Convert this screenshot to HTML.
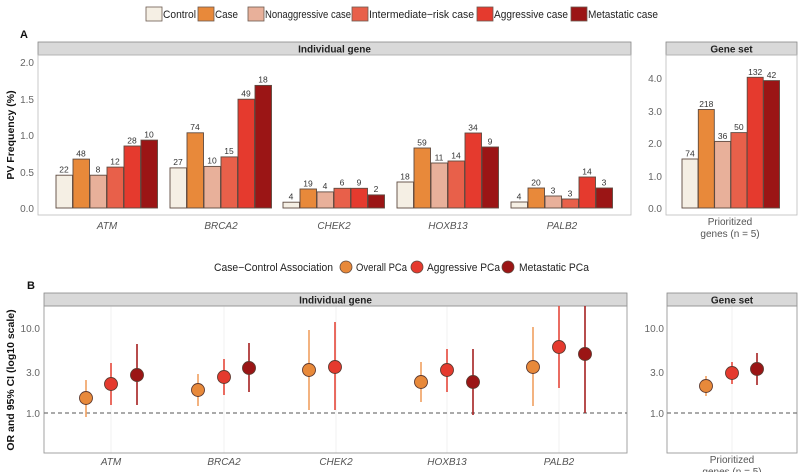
<!DOCTYPE html>
<html><head><meta charset="utf-8"><style>
html,body{margin:0;padding:0;background:#fff}
svg{display:block;font-family:"Liberation Sans",Arial,sans-serif}
</style></head><body>
<svg width="800" height="472" viewBox="0 0 800 472" xmlns="http://www.w3.org/2000/svg">
<!-- Legend A -->
<g font-size="11" fill="#222" stroke="#6b5a50" stroke-width="0.8">
<rect x="146" y="7" width="16" height="14" fill="#f5efe4"/>
<rect x="198" y="7" width="16" height="14" fill="#e8893a"/>
<rect x="248" y="7" width="16" height="14" fill="#e8b09a"/>
<rect x="352" y="7" width="16" height="14" fill="#e8604a"/>
<rect x="477" y="7" width="16" height="14" fill="#e53a2e"/>
<rect x="571" y="7" width="16" height="14" fill="#9b1515"/>
</g>
<g font-size="11" fill="#222" lengthAdjust="spacingAndGlyphs">
<text x="163" y="18" textLength="33" lengthAdjust="spacingAndGlyphs">Control</text>
<text x="215" y="18" textLength="23" lengthAdjust="spacingAndGlyphs">Case</text>
<text x="265" y="18" textLength="86" lengthAdjust="spacingAndGlyphs">Nonaggressive case</text>
<text x="369" y="18" textLength="105" lengthAdjust="spacingAndGlyphs">Intermediate−risk case</text>
<text x="494" y="18" textLength="74" lengthAdjust="spacingAndGlyphs">Aggressive case</text>
<text x="588" y="18" textLength="70" lengthAdjust="spacingAndGlyphs">Metastatic case</text>
</g>
<text x="20" y="38" font-size="11" font-weight="bold" fill="#111">A</text>
<!-- Panel A individual -->
<rect x="38" y="42" width="593" height="13" fill="#d9d9d9" stroke="#888" stroke-width="0.8"/>
<text x="334.5" y="52.5" font-size="10" font-weight="bold" text-anchor="middle" fill="#222">Individual gene</text>
<rect x="38" y="55" width="593" height="160" fill="none" stroke="#bbb" stroke-width="0.8"/>
<g font-size="10" fill="#666" text-anchor="end">
<text x="34" y="66">2.0</text><text x="34" y="103">1.5</text><text x="34" y="139">1.0</text><text x="34" y="176">0.5</text><text x="34" y="212">0.0</text>
</g>
<text transform="translate(14,135) rotate(-90)" font-size="10.5" font-weight="bold" text-anchor="middle" fill="#111">PV Frequency (%)</text>
<g stroke="#5e4a40" stroke-width="0.9">
<rect x="56" y="175.2" width="16.5" height="32.8" fill="#f5efe4"/><rect x="73" y="159.1" width="16.5" height="48.9" fill="#e8893a"/><rect x="90" y="175.2" width="16.5" height="32.8" fill="#e8b09a"/><rect x="107" y="167.1" width="16.5" height="40.9" fill="#e8604a"/><rect x="124" y="146" width="16.5" height="62" fill="#e53a2e"/><rect x="141" y="140.1" width="16.5" height="67.9" fill="#9b1515"/>
<rect x="170" y="167.9" width="16.5" height="40.1" fill="#f5efe4"/><rect x="187" y="132.8" width="16.5" height="75.2" fill="#e8893a"/><rect x="204" y="166.4" width="16.5" height="41.6" fill="#e8b09a"/><rect x="221" y="156.9" width="16.5" height="51.1" fill="#e8604a"/><rect x="238" y="99.2" width="16.5" height="108.8" fill="#e53a2e"/><rect x="255" y="85.4" width="16.5" height="122.6" fill="#9b1515"/>
<rect x="283" y="202.2" width="16.5" height="5.8" fill="#f5efe4"/><rect x="300" y="189" width="16.5" height="19" fill="#e8893a"/><rect x="317" y="191.9" width="16.5" height="16.1" fill="#e8b09a"/><rect x="334" y="188.3" width="16.5" height="19.7" fill="#e8604a"/><rect x="351" y="188.3" width="16.5" height="19.7" fill="#e53a2e"/><rect x="368" y="194.9" width="16.5" height="13.1" fill="#9b1515"/>
<rect x="397" y="182" width="16.5" height="26" fill="#f5efe4"/><rect x="414" y="148" width="16.5" height="60" fill="#e8893a"/><rect x="431" y="163" width="16.5" height="45" fill="#e8b09a"/><rect x="448" y="161" width="16.5" height="47" fill="#e8604a"/><rect x="465" y="133" width="16.5" height="75" fill="#e53a2e"/><rect x="482" y="147" width="16.5" height="61" fill="#9b1515"/>
<rect x="511" y="202" width="16.5" height="6" fill="#f5efe4"/><rect x="528" y="188" width="16.5" height="20" fill="#e8893a"/><rect x="545" y="196" width="16.5" height="12" fill="#e8b09a"/><rect x="562" y="199" width="16.5" height="9" fill="#e8604a"/><rect x="579" y="177" width="16.5" height="31" fill="#e53a2e"/><rect x="596" y="188" width="16.5" height="20" fill="#9b1515"/>
</g>
<g font-size="8.5" fill="#333" text-anchor="middle">
<text x="64" y="172.5">22</text><text x="81" y="156.5">48</text><text x="98" y="172.5">8</text><text x="115" y="164.5">12</text><text x="132" y="143.5">28</text><text x="149" y="137.5">10</text>
<text x="178" y="165">27</text><text x="195" y="130">74</text><text x="212" y="163.5">10</text><text x="229" y="154">15</text><text x="246" y="96.5">49</text><text x="263" y="82.5">18</text>
<text x="291" y="199.5">4</text><text x="308" y="186.5">19</text><text x="325" y="189">4</text><text x="342" y="185.5">6</text><text x="359" y="185.5">9</text><text x="376" y="192">2</text>
<text x="405" y="179.5">18</text><text x="422" y="145.5">59</text><text x="439" y="160.5">11</text><text x="456" y="158.5">14</text><text x="473" y="130.5">34</text><text x="490" y="144.5">9</text>
<text x="519" y="199.5">4</text><text x="536" y="185.5">20</text><text x="553" y="193.5">3</text><text x="570" y="196.5">3</text><text x="587" y="174.5">14</text><text x="604" y="185.5">3</text>
</g>
<g font-size="10" font-style="italic" fill="#555" text-anchor="middle">
<text x="107" y="229">ATM</text><text x="221" y="229">BRCA2</text><text x="334" y="229">CHEK2</text><text x="448" y="229">HOXB13</text><text x="562" y="229">PALB2</text>
</g>
<!-- Panel A gene set -->
<rect x="666" y="42" width="131" height="13" fill="#d9d9d9" stroke="#888" stroke-width="0.8"/>
<text x="731.5" y="52.5" font-size="10" font-weight="bold" text-anchor="middle" fill="#222">Gene set</text>
<rect x="666" y="55" width="131" height="160" fill="none" stroke="#bbb" stroke-width="0.8"/>
<g font-size="10" fill="#666" text-anchor="end">
<text x="662" y="82">4.0</text><text x="662" y="115">3.0</text><text x="662" y="147">2.0</text><text x="662" y="180">1.0</text><text x="662" y="212">0.0</text>
</g>
<g stroke="#5e4a40" stroke-width="0.9">
<rect x="682" y="159" width="16" height="49" fill="#f5efe4"/><rect x="698.3" y="109.5" width="16" height="98.5" fill="#e8893a"/><rect x="714.6" y="141.4" width="16" height="66.6" fill="#e8b09a"/><rect x="730.9" y="132.6" width="16" height="75.4" fill="#e8604a"/><rect x="747.2" y="77.3" width="16" height="130.7" fill="#e53a2e"/><rect x="763.5" y="80.6" width="16" height="127.4" fill="#9b1515"/>
</g>
<g font-size="8.5" fill="#333" text-anchor="middle">
<text x="690" y="156.5">74</text><text x="706.3" y="107">218</text><text x="722.6" y="139">36</text><text x="738.9" y="130">50</text><text x="755.2" y="75">132</text><text x="771.5" y="78">42</text>
</g>
<g font-size="10" fill="#555" text-anchor="middle">
<text x="730" y="225">Prioritized</text><text x="730" y="237">genes (n = 5)</text>
</g>
<!-- Legend B -->
<g font-size="11" fill="#222">
<text x="214" y="271" textLength="119" lengthAdjust="spacingAndGlyphs">Case−Control Association</text>
<circle cx="346" cy="267" r="6" fill="#e8893a" stroke="#5e4a40" stroke-width="0.8"/>
<text x="356" y="271" textLength="51" lengthAdjust="spacingAndGlyphs">Overall PCa</text>
<circle cx="417" cy="267" r="6" fill="#e53a2e" stroke="#5e4a40" stroke-width="0.8"/>
<text x="427" y="271" textLength="73" lengthAdjust="spacingAndGlyphs">Aggressive PCa</text>
<circle cx="508" cy="267" r="6" fill="#9b1515" stroke="#5e4a40" stroke-width="0.8"/>
<text x="519" y="271" textLength="70" lengthAdjust="spacingAndGlyphs">Metastatic PCa</text>
</g>
<text x="27" y="289" font-size="11" font-weight="bold" fill="#111">B</text>
<!-- Panel B individual -->
<rect x="44" y="293" width="583" height="13" fill="#d9d9d9" stroke="#888" stroke-width="0.8"/>
<text x="335.5" y="303.5" font-size="10" font-weight="bold" text-anchor="middle" fill="#222">Individual gene</text>
<g stroke="#eee" stroke-width="0.8">
<line x1="111" y1="306" x2="111" y2="453"/><line x1="224" y1="306" x2="224" y2="453"/><line x1="336" y1="306" x2="336" y2="453"/><line x1="447" y1="306" x2="447" y2="453"/><line x1="559" y1="306" x2="559" y2="453"/>
<line x1="732" y1="306" x2="732" y2="453"/>
</g>
<rect x="44" y="306" width="583" height="147" fill="none" stroke="#999" stroke-width="0.9"/>
<line x1="44" y1="413" x2="627" y2="413" stroke="#777" stroke-width="1.2" stroke-dasharray="4,3"/>
<g font-size="10" fill="#666" text-anchor="end">
<text x="40" y="332">10.0</text><text x="40" y="376">3.0</text><text x="40" y="417">1.0</text>
</g>
<text transform="translate(14,380) rotate(-90)" font-size="10.5" font-weight="bold" text-anchor="middle" fill="#111">OR and 95% CI (log10 scale)</text>
<g stroke-width="1.6">
<line x1="86" y1="380" x2="86" y2="417" stroke="#f0a060"/><line x1="111" y1="363" x2="111" y2="405" stroke="#e5473a"/><line x1="137" y1="344" x2="137" y2="405" stroke="#a52020"/>
<line x1="198" y1="374" x2="198" y2="406" stroke="#f0a060"/><line x1="224" y1="359" x2="224" y2="395" stroke="#e5473a"/><line x1="249" y1="343" x2="249" y2="392" stroke="#a52020"/>
<line x1="309" y1="330" x2="309" y2="410" stroke="#f0a060"/><line x1="335" y1="322" x2="335" y2="410" stroke="#e5473a"/>
<line x1="421" y1="362" x2="421" y2="402" stroke="#f0a060"/><line x1="447" y1="349" x2="447" y2="392" stroke="#e5473a"/><line x1="473" y1="349" x2="473" y2="415" stroke="#a52020"/>
<line x1="533" y1="327" x2="533" y2="406" stroke="#f0a060"/><line x1="559" y1="306" x2="559" y2="388" stroke="#e5473a"/><line x1="585" y1="306" x2="585" y2="413" stroke="#a52020"/>
<line x1="706" y1="376" x2="706" y2="396" stroke="#f0a060"/><line x1="732" y1="362" x2="732" y2="384" stroke="#e5473a"/><line x1="757" y1="353" x2="757" y2="385" stroke="#a52020"/>
</g>
<g stroke="#5e3a30" stroke-width="0.9">
<circle cx="86" cy="398" r="6.5" fill="#e8893a"/><circle cx="111" cy="384" r="6.5" fill="#e53a2e"/><circle cx="137" cy="375" r="6.5" fill="#9b1515"/>
<circle cx="198" cy="390" r="6.5" fill="#e8893a"/><circle cx="224" cy="377" r="6.5" fill="#e53a2e"/><circle cx="249" cy="368" r="6.5" fill="#9b1515"/>
<circle cx="309" cy="370" r="6.5" fill="#e8893a"/><circle cx="335" cy="367" r="6.5" fill="#e53a2e"/>
<circle cx="421" cy="382" r="6.5" fill="#e8893a"/><circle cx="447" cy="370" r="6.5" fill="#e53a2e"/><circle cx="473" cy="382" r="6.5" fill="#9b1515"/>
<circle cx="533" cy="367" r="6.5" fill="#e8893a"/><circle cx="559" cy="347" r="6.5" fill="#e53a2e"/><circle cx="585" cy="354" r="6.5" fill="#9b1515"/>
<circle cx="706" cy="386" r="6.5" fill="#e8893a"/><circle cx="732" cy="373" r="6.5" fill="#e53a2e"/><circle cx="757" cy="369" r="6.5" fill="#9b1515"/>
</g>
<g font-size="10" font-style="italic" fill="#555" text-anchor="middle">
<text x="111" y="465">ATM</text><text x="224" y="465">BRCA2</text><text x="336" y="465">CHEK2</text><text x="447" y="465">HOXB13</text><text x="559" y="465">PALB2</text>
</g>
<!-- Panel B gene set -->
<rect x="667" y="293" width="130" height="13" fill="#d9d9d9" stroke="#888" stroke-width="0.8"/>
<text x="732" y="303.5" font-size="10" font-weight="bold" text-anchor="middle" fill="#222">Gene set</text>
<rect x="667" y="306" width="130" height="147" fill="none" stroke="#999" stroke-width="0.9"/>
<line x1="667" y1="413" x2="797" y2="413" stroke="#777" stroke-width="1.2" stroke-dasharray="4,3"/>
<g font-size="10" fill="#666" text-anchor="end">
<text x="664" y="332">10.0</text><text x="664" y="376">3.0</text><text x="664" y="417">1.0</text>
</g>
<g font-size="10" fill="#555" text-anchor="middle">
<text x="732" y="463">Prioritized</text><text x="732" y="475">genes (n = 5)</text>
</g>
</svg>
</body></html>
